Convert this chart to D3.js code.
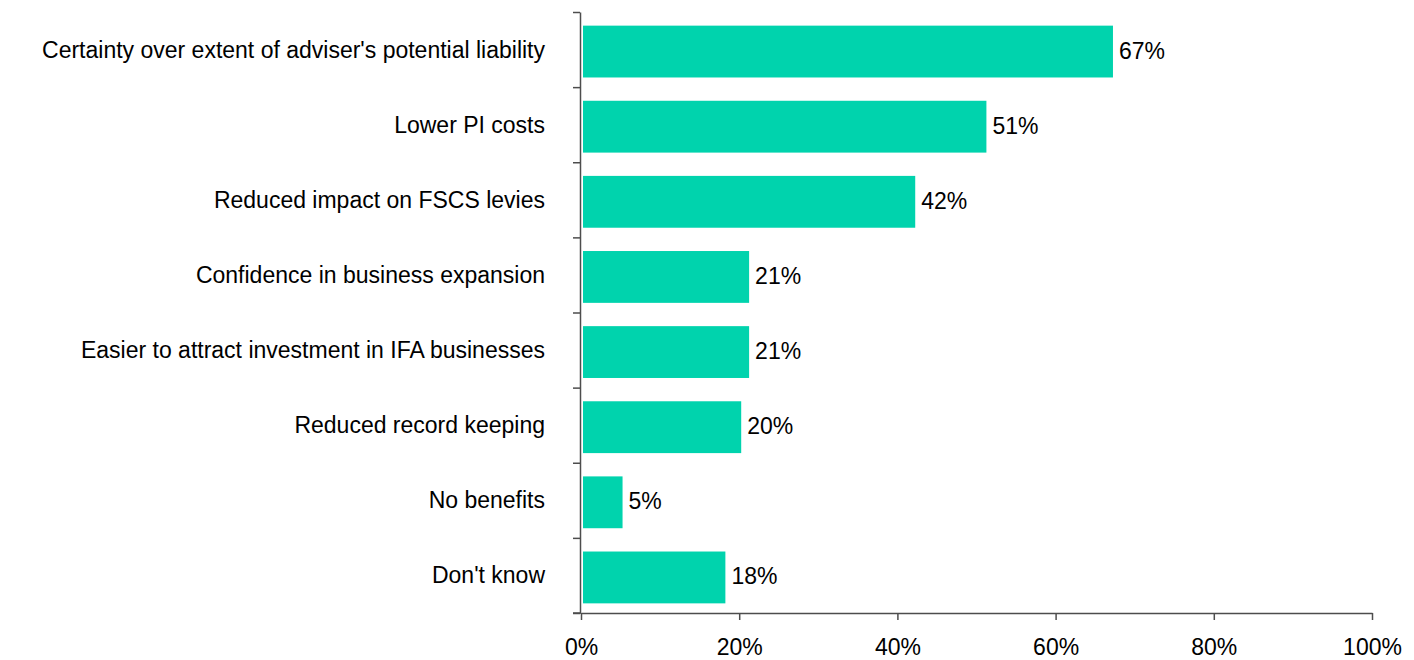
<!DOCTYPE html>
<html>
<head>
<meta charset="utf-8">
<script src="https://cdn.jsdelivr.net/npm/d3@7"></script>
<style>
  html, body { margin: 0; padding: 0; background: #ffffff; }
  svg { display: block; font-family: "Liberation Sans", Arial, sans-serif; }
</style>
</head>
<body>
<svg id="chart" width="1414" height="660"></svg>
<script>
// Perceived benefits, share of respondents
const categories = [
  "Certainty over extent of adviser's potential liability",
  "Lower PI costs",
  "Reduced impact on FSCS levies",
  "Confidence in business expansion",
  "Easier to attract investment in IFA businesses",
  "Reduced record keeping",
  "No benefits",
  "Don't know"
];
const values = [67, 51, 42, 21, 21, 20, 5, 18];
const xTicks = [0, 20, 40, 60, 80, 100];

const svg = d3.select("#chart");
const barColor = "#00d3ad";
const axisColor = "#4d4d4d";
const fontSize = 23;

const plot = { left: 581, right: 1372, top: 12, bottom: 613 };

const x = d3.scaleLinear().domain([0, 100]).range([plot.left, plot.right]);
const y = d3.scaleBand()
  .domain(categories)
  .range([plot.top, plot.bottom])
  .paddingInner(0.31)
  .paddingOuter(0.155);
// boundaries between categories, used for the left axis ticks
const yEdge = d3.scaleLinear().domain([0, categories.length]).range([plot.top, plot.bottom]);

// bars
svg.append("g")
  .selectAll("rect")
  .data(values)
  .join("rect")
  .attr("x", x(0) + 2)
  .attr("y", (d, i) => y(categories[i]) + 2)
  .attr("width", d => x(d) - x(0))
  .attr("height", y.bandwidth())
  .attr("fill", barColor);

// value labels
svg.append("g")
  .selectAll("text")
  .data(values)
  .join("text")
  .attr("x", d => x(d) + 8)
  .attr("y", (d, i) => y(categories[i]) + 1 + y.bandwidth() / 2)
  .attr("dy", "0.35em")
  .attr("font-size", fontSize)
  .attr("fill", "#000")
  .text(d => d + "%");

// left axis: ticks at category boundaries
const yAxis = svg.append("g")
  .attr("transform", `translate(${plot.left - 1},0)`)
  .call(d3.axisLeft(yEdge)
    .tickValues(d3.range(categories.length + 1))
    .tickSize(7)
    .tickSizeOuter(0)
    .tickFormat(""));
yAxis.select(".domain").attr("stroke", axisColor).attr("stroke-width", 1.5);
yAxis.selectAll(".tick line").attr("stroke", axisColor).attr("stroke-width", 1.5);

// category labels
svg.append("g")
  .selectAll("text")
  .data(categories)
  .join("text")
  .attr("x", 545)
  .attr("y", d => yEdge(categories.indexOf(d) + 0.5))
  .attr("dy", "0.35em")
  .attr("text-anchor", "end")
  .attr("font-size", fontSize)
  .attr("fill", "#000")
  .text(d => d);

// bottom axis
const xAxis = svg.append("g")
  .attr("transform", `translate(0,${plot.bottom})`)
  .call(d3.axisBottom(x)
    .tickValues(xTicks)
    .tickSize(7)
    .tickSizeOuter(0)
    .tickPadding(19)
    .tickFormat(d => d + "%"));
xAxis.select(".domain").attr("stroke", axisColor).attr("stroke-width", 1.5);
xAxis.selectAll(".tick line").attr("stroke", axisColor).attr("stroke-width", 1.5);
xAxis.selectAll(".tick text")
  .attr("font-size", fontSize)
  .attr("font-family", "Liberation Sans, Arial, sans-serif")
  .attr("fill", "#000");
// extend the baseline left to meet the outer tick of the category axis
xAxis.append("line")
  .attr("x1", plot.left - 8).attr("x2", plot.left)
  .attr("y1", 0).attr("y2", 0)
  .attr("stroke", axisColor).attr("stroke-width", 1.5);
</script>
</body>
</html>
